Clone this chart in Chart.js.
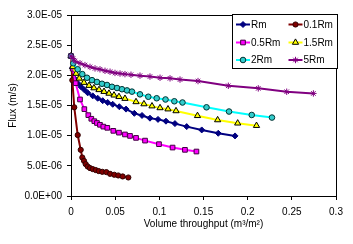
<!DOCTYPE html>
<html>
<head>
<meta charset="utf-8">
<script src="https://cdn.jsdelivr.net/npm/chart.js@4.4.1/dist/chart.umd.min.js"></script>
<style>
  html, body { margin: 0; padding: 0; background: #fff; }
  #wrap { width: 353px; height: 244px; position: relative; }
</style>
</head>
<body>
<div id="wrap"><canvas id="c" width="353" height="244"></canvas></div>
<script>
// ---- data ----
const seriesNames = ['Rm', '0.1Rm', '0.5Rm', '1.5Rm', '2Rm', '5Rm'];

const rmX = [0, 0.0017, 0.0037, 0.0076, 0.0113, 0.0151, 0.0189, 0.0246, 0.0302, 0.0359, 0.0415, 0.0472, 0.0547, 0.0623, 0.0717, 0.0804, 0.0894, 0.0985, 0.1075, 0.1177, 0.131, 0.148, 0.1667, 0.1857];
const rmY = [2.32e-5, 2.12e-5, 1.95e-5, 1.87e-5, 1.81e-5, 1.76e-5, 1.71e-5, 1.66e-5, 1.62e-5, 1.58e-5, 1.55e-5, 1.52e-5, 1.48e-5, 1.44e-5, 1.37e-5, 1.335e-5, 1.29e-5, 1.27e-5, 1.24e-5, 1.20e-5, 1.15e-5, 1.095e-5, 1.04e-5, 9.96e-6];

const r01X = [0, 0.0015, 0.0037, 0.0076, 0.011, 0.0128, 0.0147, 0.0166, 0.0189, 0.0215, 0.0246, 0.028, 0.0314, 0.0354, 0.040, 0.0442, 0.049, 0.0535, 0.0585, 0.0649];
const r01Y = [2.32e-5, 1.92e-5, 1.47e-5, 1.01e-5, 7.65e-6, 6.38e-6, 5.83e-6, 5.29e-6, 4.89e-6, 4.63e-6, 4.46e-6, 4.30e-6, 4.13e-6, 4.01e-6, 3.96e-6, 3.68e-6, 3.52e-6, 3.40e-6, 3.24e-6, 3.07e-6];

const r05X = [0, 0.0019, 0.0053, 0.0102, 0.0151, 0.0196, 0.023, 0.0264, 0.0294, 0.0328, 0.0366, 0.0411, 0.0479, 0.0543, 0.0611, 0.0668, 0.0736, 0.0838, 0.0996, 0.115, 0.129, 0.142];
const r05Y = [2.32e-5, 2.11e-5, 1.87e-5, 1.60e-5, 1.44e-5, 1.34e-5, 1.28e-5, 1.24e-5, 1.21e-5, 1.18e-5, 1.15e-5, 1.13e-5, 1.08e-5, 1.05e-5, 1.02e-5, 9.96e-6, 9.63e-6, 9.18e-6, 8.59e-6, 8.03e-6, 7.65e-6, 7.37e-6];

const r15X = [0, 0.0019, 0.0057, 0.0094, 0.0147, 0.0204, 0.026, 0.0317, 0.0374, 0.043, 0.0487, 0.0543, 0.0611, 0.0736, 0.0826, 0.0917, 0.1008, 0.1098, 0.1189, 0.1432, 0.166, 0.1887, 0.210];
const r15Y = [2.32e-5, 2.14e-5, 2.03e-5, 1.95e-5, 1.88e-5, 1.83e-5, 1.79e-5, 1.76e-5, 1.73e-5, 1.70e-5, 1.67e-5, 1.645e-5, 1.615e-5, 1.56e-5, 1.525e-5, 1.49e-5, 1.46e-5, 1.44e-5, 1.41e-5, 1.33e-5, 1.26e-5, 1.206e-5, 1.166e-5];

const r2X = [0, 0.0026, 0.0076, 0.0128, 0.0181, 0.0238, 0.0294, 0.0351, 0.0408, 0.0464, 0.0521, 0.0577, 0.0634, 0.069, 0.0781, 0.0875, 0.097, 0.107, 0.117, 0.1262, 0.1534, 0.1789, 0.2046, 0.2275];
const r2Y = [2.32e-5, 2.20e-5, 2.10e-5, 2.02e-5, 1.96e-5, 1.92e-5, 1.89e-5, 1.86e-5, 1.84e-5, 1.81e-5, 1.79e-5, 1.77e-5, 1.75e-5, 1.73e-5, 1.685e-5, 1.645e-5, 1.62e-5, 1.60e-5, 1.57e-5, 1.55e-5, 1.47e-5, 1.40e-5, 1.343e-5, 1.30e-5];

const r5X = [0, 0.0023, 0.0045, 0.0102, 0.0158, 0.0215, 0.0272, 0.0328, 0.0385, 0.0442, 0.0498, 0.0555, 0.0611, 0.0679, 0.0781, 0.0894, 0.1008, 0.1121, 0.1234, 0.1438, 0.1781, 0.212, 0.2442, 0.2744];
const r5Y = [2.32e-5, 2.28e-5, 2.235e-5, 2.20e-5, 2.17e-5, 2.14e-5, 2.115e-5, 2.10e-5, 2.075e-5, 2.06e-5, 2.04e-5, 2.03e-5, 2.02e-5, 2.01e-5, 1.995e-5, 1.98e-5, 1.96e-5, 1.95e-5, 1.93e-5, 1.905e-5, 1.827e-5, 1.784e-5, 1.728e-5, 1.70e-5];

const xTicks = [0, 0.05, 0.1, 0.15, 0.2, 0.25, 0.3];
const yTicks = [0, 5e-6, 1e-5, 1.5e-5, 2e-5, 2.5e-5, 3e-5];
const xTitle = 'Volume throughput (m\u00B3/m\u00B2)';
const yTitle = 'Flux (m/s)';

// ---- build ----
function pts(xs, ys) { return xs.map((x, i) => ({ x: x, y: ys[i] })); }

const styles = [
  { line: '#000080', fill: '#000080', border: '#000080', shape: 'rectRot', r: 3 },
  { line: '#800000', fill: '#800000', border: '#300000', shape: 'circle', r: 2.6 },
  { line: '#FF00FF', fill: '#FF00FF', border: '#400040', shape: 'rect', r: 3.3 },
  { line: '#FFFF00', fill: '#FFFF00', border: '#000000', shape: 'triangle', r: 3.6 },
  { line: '#00FFFF', fill: '#33CCCC', border: '#003333', shape: 'circle', r: 2.8 },
  { line: '#800080', fill: '#800080', border: '#800080', shape: 'star', r: 3.2 }
];
const xs = [rmX, r01X, r05X, r15X, r2X, r5X];
const ys = [rmY, r01Y, r05Y, r15Y, r2Y, r5Y];

const datasets = seriesNames.map((name, i) => ({
  label: name,
  data: pts(xs[i], ys[i]),
  borderColor: styles[i].line,
  borderWidth: 2,
  pointStyle: styles[i].shape,
  pointRadius: styles[i].r,
  pointBackgroundColor: styles[i].fill,
  pointBorderColor: styles[i].border,
  pointBorderWidth: 1,
  tension: 0,
  clip: false,
  order: 6 - i
}));

const FONT = 'Liberation Sans, Arial, sans-serif';
Chart.defaults.font.family = FONT;
Chart.defaults.font.size = 10;
Chart.defaults.color = '#000';

function fmtExp(v) {
  if (Math.abs(v) < 1e-12) return '0.0E+00';
  const s = v.toExponential(1); // e.g. 3.0e-5
  const m = s.split('e');
  const exp = parseInt(m[1], 10);
  const sign = exp < 0 ? '-' : '+';
  const a = Math.abs(exp);
  return m[0] + 'E' + sign + (a < 10 ? '0' + a : a);
}

const frame = {
  id: 'frame',
  beforeDatasetsDraw(chart) {
    const a = chart.chartArea, ctx = chart.ctx;
    ctx.save();
    ctx.strokeStyle = '#000';
    ctx.lineWidth = 1;
    ctx.strokeRect(Math.round(a.left) + 0.5, Math.round(a.top) + 0.5, Math.round(a.right - a.left), Math.round(a.bottom - a.top));
    ctx.restore();
  }
};

const legendBox = {
  id: 'legendBox',
  afterDraw(chart) {
    const ctx = chart.ctx;
    const L = 232.5, T = 14.5, W = 105, H = 54;
    ctx.save();
    ctx.fillStyle = '#fff';
    ctx.fillRect(L, T, W, H);
    ctx.strokeStyle = '#000';
    ctx.lineWidth = 1;
    ctx.strokeRect(L, T, W, H);
    const cols = [236, 288.5];
    const rows = [24.5, 42.5, 60];
    ctx.font = '10px ' + FONT;
    ctx.textBaseline = 'middle';
    ctx.textAlign = 'left';
    seriesNames.forEach((name, i) => {
      const cx = cols[i % 2], cy = rows[Math.floor(i / 2)];
      const st = styles[i];
      ctx.strokeStyle = st.line;
      ctx.lineWidth = 2;
      ctx.beginPath();
      ctx.moveTo(cx, cy); ctx.lineTo(cx + 14, cy);
      ctx.stroke();
      ctx.fillStyle = st.fill;
      ctx.strokeStyle = st.border;
      ctx.lineWidth = 1;
      Chart.helpers.drawPoint(ctx, { pointStyle: st.shape, radius: st.r, borderWidth: 1, rotation: 0 }, cx + 7, cy);
      ctx.fillStyle = '#000';
      ctx.fillText(name, cx + 15, cy + 0.5);
    });
    ctx.restore();
  }
};

new Chart(document.getElementById('c'), {
  type: 'line',
  data: { datasets: datasets },
  options: {
    responsive: false,
    animation: false,
    devicePixelRatio: 1,
    layout: { padding: { top: 15, right: 17, left: 0, bottom: 0 } },
    plugins: { legend: { display: false }, tooltip: { enabled: false } },
    scales: {
      x: {
        type: 'linear',
        min: 0, max: 0.3,
        afterBuildTicks(s) { s.ticks = xTicks.map(v => ({ value: v })); },
        afterFit(s) { s.height = 48; },
        ticks: {
          padding: 6,
          maxRotation: 0,
          autoSkip: false,
          font: { size: 10 },
          callback: v => String(parseFloat(Number(v).toFixed(2)))
        },
        grid: { drawOnChartArea: false, drawTicks: true, tickLength: 4, color: '#000' },
        border: { display: true, color: '#000', width: 1 },
        title: { display: true, text: xTitle, font: { size: 10 }, padding: { top: 0, bottom: 14 } }
      },
      y: {
        type: 'linear',
        min: 0, max: 3e-5,
        afterBuildTicks(s) { s.ticks = yTicks.map(v => ({ value: v })); },
        afterFit(s) { s.width = 71; },
        ticks: { padding: 5, autoSkip: false, font: { size: 10 }, callback: v => fmtExp(v) },
        grid: { drawOnChartArea: false, drawTicks: true, tickLength: 4, color: '#000' },
        border: { display: true, color: '#000', width: 1 },
        title: { display: true, text: yTitle, font: { size: 10 }, padding: { top: 7, bottom: 0 } }
      }
    }
  },
  plugins: [frame, legendBox]
});
</script>
</body>
</html>
